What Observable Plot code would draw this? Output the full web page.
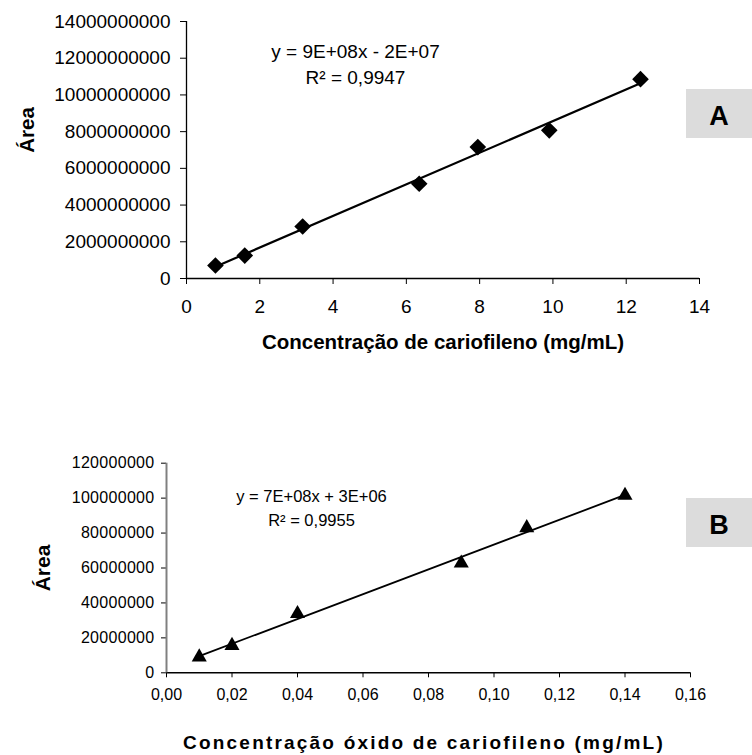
<!DOCTYPE html>
<html><head><meta charset="utf-8">
<script src="https://cdn.jsdelivr.net/npm/d3@7"></script>
<script src="https://cdn.jsdelivr.net/npm/@observablehq/plot@0.6"></script>
<style>
body{margin:0;background:#fff;}
#wrap{position:relative;width:752px;height:755px;overflow:hidden;font-family:"Liberation Sans",Arial,sans-serif;}
.panel{position:absolute;left:0;}
.tag{position:absolute;box-sizing:border-box;background:#dcdcdc;font-weight:bold;font-size:27px;color:#000;display:flex;align-items:center;justify-content:center;font-family:"Liberation Sans",Arial,sans-serif;}
</style></head><body><div id="wrap"></div>
<script>
// ---- data: chart A (cariofileno) ----
const concA = [0.79, 1.59, 3.17, 6.35, 7.95, 9.9, 12.39];
const areaA = [0.71e9, 1.25e9, 2.83e9, 5.16e9, 7.16e9, 8.07e9, 10.86e9];
const xTicksA = [0, 2, 4, 6, 8, 10, 12, 14];
const yTicksA = [0, 2e9, 4e9, 6e9, 8e9, 10e9, 12e9, 14e9];
const eqA = ["y = 9E+08x - 2E+07", "R² = 0,9947"];
const xTitleA = "Concentração de cariofileno (mg/mL)";

// ---- data: chart B (óxido de cariofileno) ----
const concB = [0.01, 0.02, 0.04, 0.09, 0.11, 0.14];
const areaB = [9.0e6, 15.6e6, 33.8e6, 62.8e6, 83.0e6, 101.5e6];
const xTicksB = [0, 0.02, 0.04, 0.06, 0.08, 0.10, 0.12, 0.14, 0.16];
const yTicksB = [0, 20e6, 40e6, 60e6, 80e6, 100e6, 120e6];
const eqB = ["y = 7E+08x + 3E+06", "R² = 0,9955"];
const xTitleB = "Concentração óxido de cariofileno (mg/mL)";

const yTitle = "Área";
const tags = ["A", "B"];

const font = "Liberation Sans, Arial, sans-serif";
const wrap = document.getElementById("wrap");

const dataA = concA.map((c, i) => ({c, a: areaA[i]}));
const dataB = concB.map((c, i) => ({c, a: areaB[i]}));

const plotA = Plot.plot({
  width: 752, height: 380,
  marginLeft: 186, marginRight: 53, marginTop: 21, marginBottom: 102,
  style: {fontFamily: font, fontSize: "19px", color: "#000", background: "transparent"},
  x: {domain: [0, 14], label: null},
  y: {domain: [0, 14e9], label: null},
  marks: [
    Plot.axisX({ticks: xTicksA, tickSize: 6, tickPadding: 15, label: null, tickFormat: d => String(d)}),
    Plot.axisY({ticks: yTicksA, tickSize: 6, tickPadding: 10, label: null, tickFormat: d => String(d)}),
    Plot.ruleY([0], {stroke: "#000", strokeWidth: 1.3}),
    Plot.ruleX([0], {stroke: "#000", strokeWidth: 1.3}),
    Plot.linearRegressionY(dataA, {x: "c", y: "a", stroke: "#000", strokeWidth: 2.2, ci: 0}),
    Plot.dot(dataA, {x: "c", y: "a", symbol: "diamond2", r: 7.5, fill: "#000", stroke: "none"}),
    Plot.text([eqA[0]], {text: d => d, frameAnchor: "top-left", dx: 169, dy: 30, textAnchor: "middle", lineAnchor: "middle", fontSize: 19}),
    Plot.text([eqA[1]], {text: d => d, frameAnchor: "top-left", dx: 169, dy: 56, textAnchor: "middle", lineAnchor: "middle", fontSize: 19}),
    Plot.text([yTitle], {text: d => d, frameAnchor: "left", rotate: -90, dx: -159, dy: -20, textAnchor: "middle", lineAnchor: "middle", fontWeight: "bold", fontSize: 20.5}),
    Plot.text([xTitleA], {text: d => d, frameAnchor: "bottom", dy: 64, textAnchor: "middle", lineAnchor: "middle", fontWeight: "bold", fontSize: 20.5})
  ]
});

const fmtB = d => d3.format(".2f")(d).replace(".", ",");

const plotB = Plot.plot({
  width: 752, height: 375,
  marginLeft: 166, marginRight: 62, marginTop: 82.7, marginBottom: 82.7,
  style: {fontFamily: font, fontSize: "16px", color: "#000", background: "transparent"},
  x: {domain: [0, 0.16], label: null},
  y: {domain: [0, 120e6], label: null},
  marks: [
    Plot.axisX({ticks: xTicksB, tickSize: 5, tickPadding: 11, label: null, tickFormat: fmtB}),
    Plot.axisY({ticks: yTicksB, tickSize: 5, tickPadding: 7, label: null, tickFormat: d => String(d)}),
    Plot.ruleY([0], {stroke: "#000", strokeWidth: 1.5}),
    Plot.ruleX([0], {stroke: "#808080", strokeWidth: 2}),
    Plot.linearRegressionY(dataB, {x: "c", y: "a", stroke: "#000", strokeWidth: 1.8, ci: 0}),
    Plot.dot(dataB, {x: "c", y: "a", symbol: "triangle", r: 5.6, fill: "#000", stroke: "none"}),
    Plot.text([eqB[0]], {text: d => d, frameAnchor: "top-left", dx: 145, dy: 34, textAnchor: "middle", lineAnchor: "middle", fontSize: 16.5}),
    Plot.text([eqB[1]], {text: d => d, frameAnchor: "top-left", dx: 145, dy: 58, textAnchor: "middle", lineAnchor: "middle", fontSize: 16.5}),
    Plot.text([yTitle], {text: d => d, frameAnchor: "left", rotate: -90, dx: -123, dy: 0, textAnchor: "middle", lineAnchor: "middle", fontWeight: "bold", fontSize: 21}),
    Plot.text([xTitleB], {text: d => d, frameAnchor: "bottom", dx: -4.5, dy: 70.5, textAnchor: "middle", lineAnchor: "middle", fontWeight: "bold", fontSize: 19})
  ]
});

// letter spacing to mimic the original rendering
d3.select(plotB).selectAll("text").filter(function() { return this.textContent === xTitleB; }).style("letter-spacing", "2.2px");
d3.select(plotB).selectAll("g[aria-label='y-axis tick label'] text").style("letter-spacing", "0.3px");

const pA = document.createElement("div"); pA.className = "panel"; pA.style.top = "0px"; pA.appendChild(plotA); wrap.appendChild(pA);
const pB = document.createElement("div"); pB.className = "panel"; pB.style.top = "380px"; pB.appendChild(plotB); wrap.appendChild(pB);

const tagBoxes = [{left: 686, top: 89, pad: 6}, {left: 686, top: 498, pad: 6}];
tags.forEach((t, i) => {
  const d = document.createElement("div");
  d.className = "tag";
  d.style.left = tagBoxes[i].left + "px";
  d.style.top = tagBoxes[i].top + "px";
  d.style.width = "66px";
  d.style.height = "49px";
  d.style.paddingTop = tagBoxes[i].pad + "px";
  d.textContent = t;
  wrap.appendChild(d);
});
</script></body></html>
